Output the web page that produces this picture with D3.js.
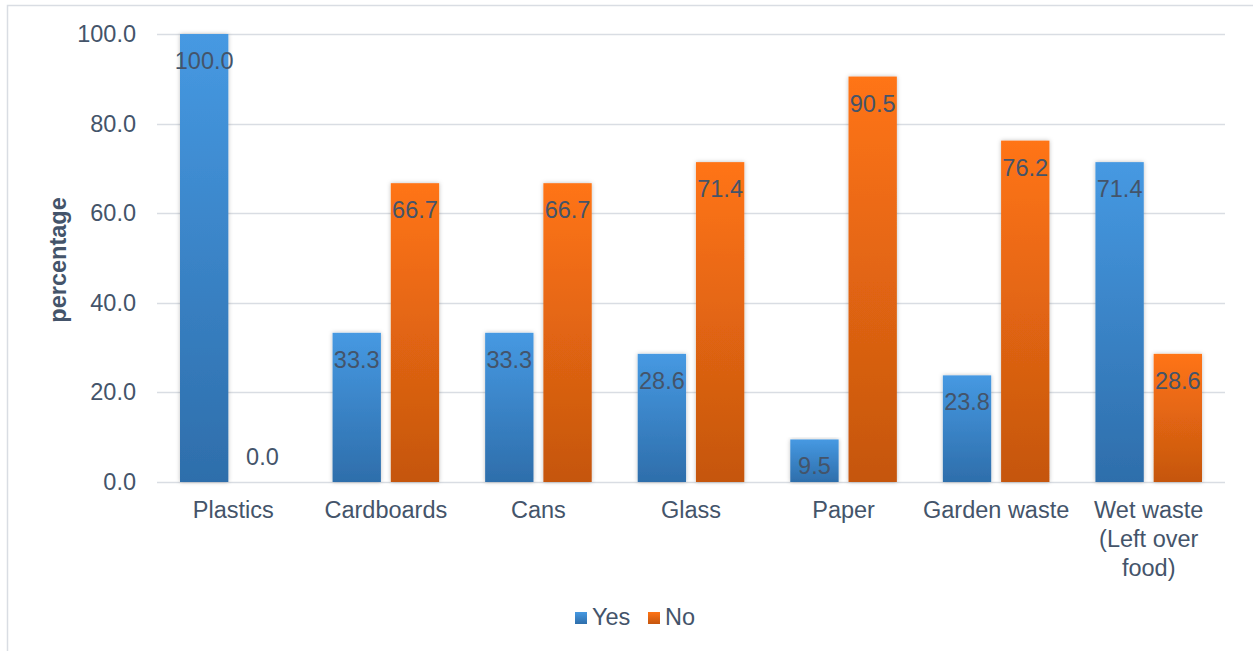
<!DOCTYPE html>
<html>
<head>
<meta charset="utf-8">
<script src="https://cdn.jsdelivr.net/npm/d3@7"></script>
<style>
  html, body { margin: 0; padding: 0; background: #fff; }
  svg { display: block; font-family: "Liberation Sans", Arial, sans-serif; }
</style>
</head>
<body>
<svg id="chart" width="1253" height="651"></svg>
<script>
// Recycling survey: share of respondents answering Yes / No per waste type
const categories = ["Plastics", "Cardboards", "Cans", "Glass", "Paper", "Garden waste", "Wet waste (Left over food)"];
const categoryLines = [["Plastics"], ["Cardboards"], ["Cans"], ["Glass"], ["Paper"], ["Garden waste"], ["Wet waste", "(Left over", "food)"]];
const seriesNames = ["Yes", "No"];
const yesValues = [100.0, 33.3, 33.3, 28.6, 9.5, 23.8, 71.4];
const noValues = [0.0, 66.7, 66.7, 71.4, 90.5, 76.2, 28.6];
const yTicks = [0, 20, 40, 60, 80, 100];

const textColor = "#44546a";
const gridColor = "#d9dde3";
const fontSize = 23.5;

const svg = d3.select("#chart");
const W = 1253, H = 651;
const margin = { left: 157, right: 28, top: 34, bottom: 169 };
const plotW = W - margin.left - margin.right;
const plotH = H - margin.top - margin.bottom;

// Outer chart border
svg.append("rect")
  .attr("x", 7.5).attr("y", 5.5)
  .attr("width", W + 10).attr("height", H + 10)
  .attr("fill", "none").attr("stroke", gridColor).attr("stroke-width", 1.5);

const defs = svg.append("defs");
function gradient(id, top, bottom) {
  const g = defs.append("linearGradient").attr("id", id)
    .attr("x1", 0).attr("y1", 0).attr("x2", 0).attr("y2", 1);
  g.append("stop").attr("offset", "0%").attr("stop-color", top);
  g.append("stop").attr("offset", "100%").attr("stop-color", bottom);
}
gradient("gradYes", "#4699e2", "#2e6eab");
gradient("gradNo", "#ff7415", "#c5560f");
const shadow = defs.append("filter").attr("id", "shadow")
  .attr("x", "-20%").attr("y", "-5%").attr("width", "140%").attr("height", "110%");
shadow.append("feDropShadow").attr("dx", 0).attr("dy", 0).attr("stdDeviation", 2)
  .attr("flood-color", "#000").attr("flood-opacity", 0.25);

const g = svg.append("g").attr("transform", `translate(${margin.left},${margin.top})`);

const x0 = d3.scaleBand().domain(categories).range([0, plotW]).paddingInner(0).paddingOuter(0);
const x1 = d3.scaleBand().domain(seriesNames).range([23, x0.bandwidth() - 23]).paddingInner(0.17);
const y = d3.scaleLinear().domain([0, 100]).range([plotH, 0]);

// Gridlines
g.append("g")
  .selectAll("line").data(yTicks).join("line")
  .attr("x1", 0).attr("x2", plotW)
  .attr("y1", d => Math.round(y(d)) + 0.5).attr("y2", d => Math.round(y(d)) + 0.5)
  .attr("stroke", gridColor).attr("stroke-width", 1.5);

// Y axis labels
const yAxis = d3.axisLeft(y).tickValues(yTicks).tickFormat(d3.format(".1f")).tickSize(0).tickPadding(21);
g.append("g").call(yAxis)
  .call(s => s.select(".domain").remove())
  .selectAll("text")
  .attr("fill", textColor).attr("font-size", fontSize)
  .attr("font-family", "Liberation Sans, Arial, sans-serif");

// Y axis title
svg.append("text")
  .attr("transform", `translate(66,${margin.top + plotH / 2 + 2}) rotate(-90)`)
  .attr("text-anchor", "middle")
  .attr("fill", textColor).attr("font-size", fontSize).attr("font-weight", "bold")
  .text("percentage");

const data = categories.map((c, i) => ({ cat: c, values: [
  { key: "Yes", value: yesValues[i] }, { key: "No", value: noValues[i] }
]}));

const groups = g.selectAll(".cat").data(data).join("g")
  .attr("class", "cat").attr("transform", d => `translate(${x0(d.cat)},0)`);

groups.selectAll("rect").data(d => d.values.filter(v => v.value > 0)).join("rect")
  .attr("x", d => x1(d.key)).attr("width", x1.bandwidth())
  .attr("y", d => y(d.value)).attr("height", d => y(0) - y(d.value))
  .attr("fill", d => d.key === "Yes" ? "url(#gradYes)" : "url(#gradNo)")
  .attr("filter", "url(#shadow)");

// Value labels, placed just inside the bar end
groups.selectAll(".lbl").data(d => d.values).join("text")
  .attr("class", "lbl")
  .attr("x", d => x1(d.key) + x1.bandwidth() / 2)
  .attr("y", d => d.value > 5 ? y(d.value) + 35 : y(d.value) - 17)
  .attr("text-anchor", "middle")
  .attr("fill", textColor).attr("font-size", fontSize)
  .text(d => d3.format(".1f")(d.value));

// Category labels
const catLabels = g.selectAll(".catlbl").data(categories).join("text")
  .attr("class", "catlbl")
  .attr("transform", d => `translate(${x0(d) + x0.bandwidth() / 2},${plotH + 36})`)
  .attr("text-anchor", "middle")
  .attr("fill", textColor).attr("font-size", fontSize);
catLabels.selectAll("tspan").data((d, i) => categoryLines[i]).join("tspan")
  .attr("x", 0).attr("dy", (d, i) => i === 0 ? 0 : 29)
  .text(d => d);

// Legend
const legend = svg.append("g").attr("transform", "translate(575,625)");
const legendItems = [
  { name: "Yes", fill: "url(#gradYes)", x: 0 },
  { name: "No", fill: "url(#gradNo)", x: 73 }
];
const li = legend.selectAll("g").data(legendItems).join("g")
  .attr("transform", d => `translate(${d.x},0)`);
li.append("rect").attr("x", 0).attr("y", -13).attr("width", 12).attr("height", 12)
  .attr("fill", d => d.fill);
li.append("text").attr("x", 17).attr("y", 0)
  .attr("fill", textColor).attr("font-size", fontSize).text(d => d.name);
</script>
</body>
</html>
